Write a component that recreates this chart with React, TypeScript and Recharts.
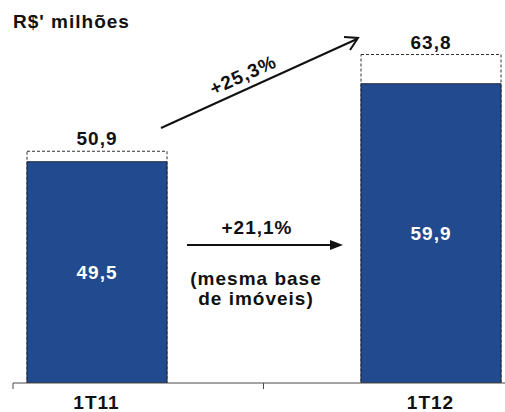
import React from 'react';
import { BarChart, Bar, XAxis, YAxis, LabelList } from 'recharts';

// Quarterly revenue, R$ millions
const categories = ['1T11', '', '1T12'];
const sameBaseValues = [49.5, null, 59.9];
const totalValues = [50.9, null, 63.8];
const yDomain = [20, 70];

const growthTotal = '+25,3%';
const growthSameBase = '+21,1%';
const sameBaseNote = ['(mesma base', 'de imóveis)'];

const data = categories.map((name, i) => ({
  name,
  base: sameBaseValues[i],
  total: totalValues[i],
}));

// band boundaries for the tick marks under the axis
const boundaryTicks = categories.map((_, i) => i).concat(categories.length);

const FONT = '"Liberation Sans", Arial, sans-serif';
const BLUE = '#224A8E';

const fmt = (v: any) => (v == null ? '' : Number(v).toFixed(1).replace('.', ','));

export default function App() {
  return (
    <div style={{ position: 'absolute', left: 0, top: 0, width: 505, height: 412, overflow: 'hidden', background: '#fff' }}>
      <BarChart
        width={514}
        height={412}
        data={data}
        margin={{ top: 8, right: 0, left: 13, bottom: 0 }}
        barSize={140}
        barGap={-140}
      >
        <XAxis
          xAxisId="axis"
          type="number"
          domain={[0, categories.length]}
          ticks={boundaryTicks}
          tickFormatter={() => ''}
          height={1}
          allowDataOverflow
          stroke="#4a4a4a"
          tickSize={6}
        />
        <XAxis
          xAxisId="labels"
          dataKey="name"
          height={28}
          axisLine={false}
          tickLine={false}
          tickMargin={6}
          interval={0}
          tick={{ fill: '#111', fontSize: 19, fontWeight: 700, fontFamily: FONT, letterSpacing: 1 }}
        />
        <YAxis hide domain={yDomain} allowDataOverflow />
        <Bar
          xAxisId="labels"
          dataKey="total"
          fill="#fff"
          stroke="#333"
          strokeWidth={1}
          strokeDasharray="3 2"
          isAnimationActive={false}
        >
          <LabelList
            dataKey="total"
            position="top"
            offset={6}
            formatter={fmt}
            style={{ fill: '#111', fontSize: 19, fontWeight: 700, fontFamily: FONT, letterSpacing: 1 }}
          />
        </Bar>
        <Bar
          xAxisId="labels"
          dataKey="base"
          fill={BLUE}
          stroke="#1b2638"
          strokeWidth={1}
          isAnimationActive={false}
        >
          <LabelList
            dataKey="base"
            position="center"
            formatter={fmt}
            style={{ fill: '#fff', fontSize: 19, fontWeight: 700, fontFamily: FONT, letterSpacing: 1 }}
          />
        </Bar>
      </BarChart>
      <svg
        width={505}
        height={412}
        style={{ position: 'absolute', left: 0, top: 0, pointerEvents: 'none' }}
        fontFamily={FONT}
        fontWeight={700}
      >
        <text x={13} y={28} fontSize={19} letterSpacing={1} fill="#111">R$' milhões</text>

        {/* diagonal growth arrow */}
        <line x1={161} y1={128} x2={357} y2={39} stroke="#111" strokeWidth={2} />
        <polyline points="344,37 358,38 350,50" fill="none" stroke="#111" strokeWidth={2} />
        <text
          x={243}
          y={75}
          fontSize={19}
          letterSpacing={1}
          fill="#111"
          textAnchor="middle"
          dominantBaseline="central"
          transform="rotate(-24.5 243 75)"
        >
          {growthTotal}
        </text>

        {/* same-base growth arrow */}
        <line x1={187} y1={245} x2={332} y2={245} stroke="#111" strokeWidth={2} />
        <polygon points="330,240 343,245 330,250" fill="#111" />
        <text x={257} y={234} fontSize={19} letterSpacing={1} fill="#111" textAnchor="middle">{growthSameBase}</text>
        <text x={256} y={285} fontSize={19} letterSpacing={1} fill="#111" textAnchor="middle">{sameBaseNote[0]}</text>
        <text x={256} y={305} fontSize={19} letterSpacing={1} fill="#111" textAnchor="middle">{sameBaseNote[1]}</text>
      </svg>
    </div>
  );
}
